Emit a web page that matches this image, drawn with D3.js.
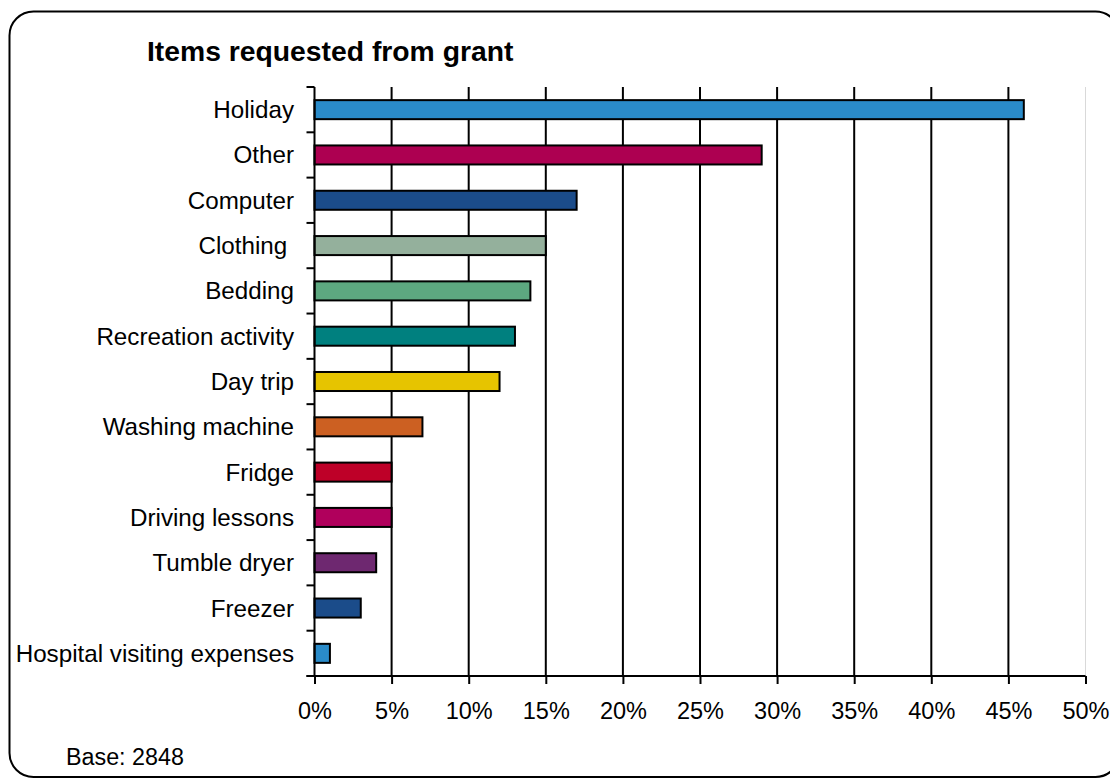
<!DOCTYPE html>
<html>
<head>
<meta charset="utf-8">
<script src="https://cdn.jsdelivr.net/npm/d3@7/dist/d3.min.js"></script>
<style>
  html, body { margin: 0; padding: 0; background: #fff; }
  svg { display: block; font-family: "Liberation Sans", Arial, sans-serif; }
  .cat { white-space: pre; }
</style>
</head>
<body>
<svg id="chart" width="1110" height="778"></svg>
<script>
// Share of applicants requesting each item (%)
const categories = [
  "Holiday", "Other", "Computer", "Clothing ", "Bedding", "Recreation activity",
  "Day trip", "Washing machine", "Fridge", "Driving lessons", "Tumble dryer",
  "Freezer", "Hospital visiting expenses"
];
const values = [46, 29, 17, 15, 14, 13, 12, 7, 5, 5, 4, 3, 1];
const barColors = [
  "#2a8bc9", "#ad0051", "#1b4c8a", "#94b09c", "#5da880", "#00807f",
  "#e6c400", "#cc6022", "#be0028", "#b0005c", "#6e2870", "#1b4c8a", "#2a8bc9"
];
const xTicks = [0, 5, 10, 15, 20, 25, 30, 35, 40, 45, 50];
const title = "Items requested from grant";
const baseNote = "Base: 2848";

const svg = d3.select("#chart");

// Rounded frame around the whole chart
svg.append("rect")
  .attr("x", 9.5).attr("y", 11.5)
  .attr("width", 1110).attr("height", 765.5)
  .attr("rx", 24).attr("ry", 24)
  .attr("fill", "#fff").attr("stroke", "#000").attr("stroke-width", 2);

const plot = { left: 314.5, right: 1085.5, top: 87, bottom: 676 };

const x = d3.scaleLinear().domain([0, 50]).range([plot.left, plot.right]);
const y = d3.scaleBand().domain(categories).range([plot.top, plot.bottom]).paddingInner(0.58).paddingOuter(0.29);
const band = d3.scaleBand().domain(categories).range([plot.top, plot.bottom]);

// Vertical gridlines
svg.append("g").selectAll("line")
  .data(xTicks.filter(t => t > 0))
  .join("line")
  .attr("x1", d => x(d)).attr("x2", d => x(d))
  .attr("y1", plot.top).attr("y2", plot.bottom)
  .attr("stroke", d => d === 50 ? "#d9d9d9" : "#000")
  .attr("stroke-width", d => d === 50 ? 1 : 2);

// Bars
svg.append("g").selectAll("rect")
  .data(categories)
  .join("rect")
  .attr("x", x(0))
  .attr("y", d => y(d))
  .attr("width", (d, i) => x(values[i]) - x(0))
  .attr("height", y.bandwidth())
  .attr("fill", (d, i) => barColors[i])
  .attr("stroke", "#000").attr("stroke-width", 2);

// Y axis: line plus ticks at band boundaries
const yAxis = svg.append("g");
yAxis.append("line")
  .attr("x1", plot.left).attr("x2", plot.left)
  .attr("y1", plot.top).attr("y2", plot.bottom)
  .attr("stroke", "#000").attr("stroke-width", 2);
const bounds = categories.map(c => band(c)).concat([plot.bottom]);
yAxis.selectAll("line.tick")
  .data(bounds)
  .join("line").attr("class", "tick")
  .attr("x1", plot.left - 8).attr("x2", plot.left)
  .attr("y1", d => d).attr("y2", d => d)
  .attr("stroke", "#000").attr("stroke-width", 2);
yAxis.selectAll("text")
  .data(categories)
  .join("text").attr("class", "cat")
  .attr("x", 294)
  .attr("y", d => band(d) + band.bandwidth() / 2)
  .attr("dy", "0.35em")
  .attr("text-anchor", "end")
  .attr("font-size", 24.2)
  .attr("fill", "#000")
  .text(d => d);

// X axis
const xAxis = d3.axisBottom(x)
  .tickValues(xTicks)
  .tickFormat(d => d + "%")
  .tickSize(8)
  .tickPadding(18);
const xg = svg.append("g")
  .attr("transform", `translate(0,${plot.bottom})`)
  .call(xAxis);
xg.select(".domain").remove();
xg.append("line")
  .attr("x1", plot.left - 8).attr("x2", plot.right)
  .attr("stroke", "#000").attr("stroke-width", 2);
xg.selectAll(".tick line").attr("stroke", "#000").attr("stroke-width", 2);
xg.selectAll(".tick text")
  .attr("font-size", 23.5)
  .attr("font-family", "Liberation Sans, Arial, sans-serif")
  .attr("fill", "#000");

// Title
svg.append("text")
  .attr("x", 147).attr("y", 61)
  .attr("font-size", 28.3).attr("font-weight", "bold")
  .attr("fill", "#000")
  .text(title);

// Base note
svg.append("text")
  .attr("x", 66).attr("y", 765)
  .attr("font-size", 23.3)
  .attr("fill", "#000")
  .text(baseNote);
</script>
</body>
</html>
